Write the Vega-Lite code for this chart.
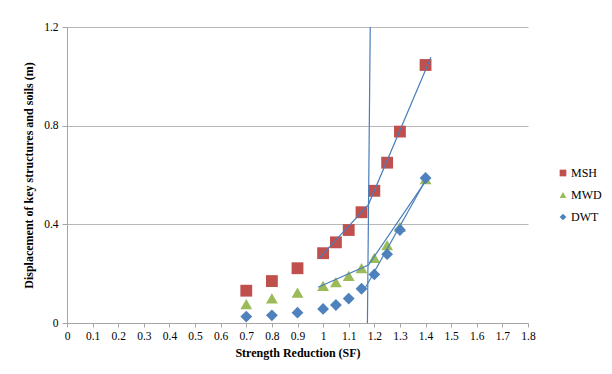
{
  "$schema": "https://vega.github.io/schema/vega-lite/v6.json",
  "autosize": {"type": "none"},
  "width": 461,
  "height": 296,
  "padding": {"left": 67, "top": 27, "right": 84, "bottom": 51},
  "background": "white",
  "config": {
    "font": "Liberation Serif",
    "view": {"stroke": null},
    "axis": {"labelFont": "Liberation Serif", "titleFont": "Liberation Serif", "labelColor": "#000000", "titleColor": "#000000", "labelFontSize": 11.5, "titleFontSize": 12, "titleFontWeight": "bold"},
    "axisX": {"labelOverlap": false, "tickCount": 18},
    "legend": {"labelFont": "Liberation Serif"}
  },
  "datasets": {
    "pts": [
      {"sf": 0.7, "disp": 0.131, "series": "MSH"},
      {"sf": 0.8, "disp": 0.170, "series": "MSH"},
      {"sf": 0.9, "disp": 0.222, "series": "MSH"},
      {"sf": 1.0, "disp": 0.283, "series": "MSH"},
      {"sf": 1.05, "disp": 0.327, "series": "MSH"},
      {"sf": 1.1, "disp": 0.377, "series": "MSH"},
      {"sf": 1.15, "disp": 0.449, "series": "MSH"},
      {"sf": 1.2, "disp": 0.536, "series": "MSH"},
      {"sf": 1.25, "disp": 0.650, "series": "MSH"},
      {"sf": 1.3, "disp": 0.776, "series": "MSH"},
      {"sf": 1.4, "disp": 1.046, "series": "MSH"},
      {"sf": 0.7, "disp": 0.077, "series": "MWD"},
      {"sf": 0.8, "disp": 0.100, "series": "MWD"},
      {"sf": 0.9, "disp": 0.123, "series": "MWD"},
      {"sf": 1.0, "disp": 0.151, "series": "MWD"},
      {"sf": 1.05, "disp": 0.166, "series": "MWD"},
      {"sf": 1.1, "disp": 0.191, "series": "MWD"},
      {"sf": 1.15, "disp": 0.222, "series": "MWD"},
      {"sf": 1.2, "disp": 0.264, "series": "MWD"},
      {"sf": 1.25, "disp": 0.316, "series": "MWD"},
      {"sf": 1.3, "disp": 0.390, "series": "MWD"},
      {"sf": 1.4, "disp": 0.583, "series": "MWD"},
      {"sf": 0.7, "disp": 0.026, "series": "DWT"},
      {"sf": 0.8, "disp": 0.031, "series": "DWT"},
      {"sf": 0.9, "disp": 0.042, "series": "DWT"},
      {"sf": 1.0, "disp": 0.057, "series": "DWT"},
      {"sf": 1.05, "disp": 0.073, "series": "DWT"},
      {"sf": 1.1, "disp": 0.099, "series": "DWT"},
      {"sf": 1.15, "disp": 0.139, "series": "DWT"},
      {"sf": 1.2, "disp": 0.197, "series": "DWT"},
      {"sf": 1.25, "disp": 0.279, "series": "DWT"},
      {"sf": 1.3, "disp": 0.377, "series": "DWT"},
      {"sf": 1.4, "disp": 0.588, "series": "DWT"}
    ],
    "lines": [
      {"line": "MSH", "ord": 1, "sf": 0.986, "disp": 0.264},
      {"line": "MSH", "ord": 2, "sf": 1.177, "disp": 0.48},
      {"line": "MSH", "ord": 3, "sf": 1.421, "disp": 1.077},
      {"line": "MWD", "ord": 1, "sf": 0.98, "disp": 0.145},
      {"line": "MWD", "ord": 2, "sf": 1.177, "disp": 0.235},
      {"line": "MWD", "ord": 3, "sf": 1.405, "disp": 0.582},
      {"line": "DWT", "ord": 1, "sf": 1.164, "disp": 0.141},
      {"line": "DWT", "ord": 2, "sf": 1.405, "disp": 0.588},
      {"line": "SRF", "ord": 1, "sf": 1.184, "disp": 1.2},
      {"line": "SRF", "ord": 2, "sf": 1.173, "disp": 0.0}
    ]
  },
  "encoding": {
    "x": {
      "field": "sf", "type": "quantitative",
      "scale": {"domain": [0, 1.8], "nice": false, "zero": false},
      "axis": {
        "title": "Strength Reduction (SF)",
        "tickCount": 18,
        "format": "~g", "grid": false, "labelOverlap": false,
        "labelFont": "Liberation Serif", "titleFont": "Liberation Serif",
        "domainColor": "#A6A6A6", "tickColor": "#A6A6A6", "tickSize": 4,
        "labelPadding": 3, "titlePadding": 6, "labelFlush": false
      }
    },
    "y": {
      "field": "disp", "type": "quantitative",
      "scale": {"domain": [0, 1.2], "nice": false},
      "axis": {
        "title": "Displacement of key structures and soils (m)",
        "values": [0, 0.4, 0.8, 1.2], "format": "~g", "labelOverlap": false,
        "labelFont": "Liberation Serif", "titleFont": "Liberation Serif",
        "grid": true, "gridColor": "#B8B8B8", "gridWidth": 1.2,
        "domainColor": "#A6A6A6", "tickColor": "#A6A6A6", "tickSize": 5,
        "labelPadding": 4, "titlePadding": 8
      }
    }
  },
  "layer": [
    {
      "data": {"name": "pts"},
      "mark": {"type": "point", "filled": true, "opacity": 1, "size": 140},
      "encoding": {
        "color": {
          "field": "series", "type": "nominal",
          "scale": {"domain": ["MSH", "MWD", "DWT"], "range": ["#C0504D", "#9BBB59", "#4F81BD"]},
          "legend": {
            "title": null, "orient": "none", "legendX": 490, "legendY": 140,
            "labelFont": "Liberation Serif", "labelFontSize": 12, "labelColor": "#000000",
            "symbolSize": 45, "rowPadding": 10, "labelOffset": 2
          }
        },
        "shape": {
          "field": "series", "type": "nominal",
          "scale": {"domain": ["MSH", "MWD", "DWT"], "range": ["square", "triangle-up", "diamond"]}
        }
      }
    },
    {
      "data": {"name": "lines"},
      "mark": {"type": "line", "color": "#4A7EBB", "strokeWidth": 1.2},
      "encoding": {
        "detail": {"field": "line", "type": "nominal"},
        "order": {"field": "ord", "type": "quantitative"}
      }
    }
  ]
}
